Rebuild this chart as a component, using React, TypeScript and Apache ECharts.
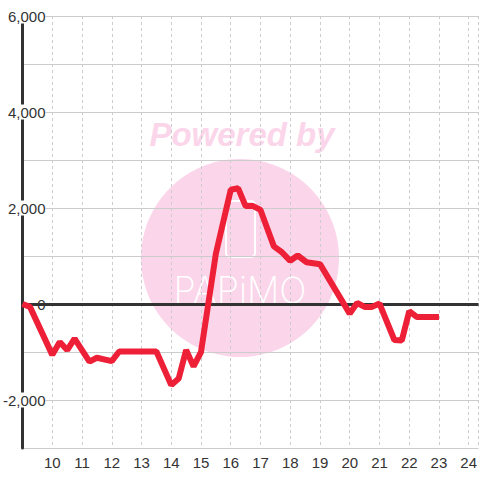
import React, { useEffect, useRef } from "react";
import * as echarts from "echarts";

const hours = [9.0, 9.25, 10.0, 10.25, 10.5, 10.75, 11.25, 11.5, 12.0, 12.25, 13.5, 14.0, 14.25, 14.5, 14.75, 15.0, 15.5, 16.0, 16.25, 16.5, 16.75, 17.0, 17.45, 17.7, 18.0, 18.25, 18.55, 19.0, 20.0, 20.25, 20.5, 20.75, 21.0, 21.5, 21.75, 22.0, 22.25, 23.0];
const values = [0, -60, -1060, -790, -960, -720, -1200, -1120, -1190, -990, -990, -1690, -1550, -960, -1300, -1000, 1050, 2380, 2410, 2040, 2040, 1960, 1200, 1090, 900, 1010, 870, 830, -200, 20, -60, -60, 10, -750, -760, -150, -270, -270];

const yTickLabelStep = 2000;

export default function App() {
  const ref = useRef<HTMLDivElement>(null);
  useEffect(() => {
    const chart = echarts.init(ref.current!, null, { renderer: "svg" });
    const font = "'Liberation Sans', Arial, sans-serif";
    chart.setOption({
      animation: false,
      backgroundColor: "#ffffff",
      grid: { left: 20, right: 0, top: 16, bottom: 32, containLabel: false },
      graphic: [
        {
          type: "circle",
          z: -10,
          shape: { cx: 240, cy: 258, r: 99 },
          style: { fill: "#fbd6ea" },
        },
        {
          type: "text",
          z: -10,
          x: 242,
          y: 134,
          style: {
            text: "Powered by",
            fill: "#fbd6ea",
            font: "italic 900 33px 'Liberation Sans', Arial, sans-serif",
            align: "center",
            verticalAlign: "middle",
          },
        },
        {
          type: "rect",
          z: -9,
          shape: { x: 226, y: 201, width: 29, height: 56, r: 4 },
          style: { fill: "none", stroke: "#ffffff", lineWidth: 2 },
        },
        {
          type: "text",
          z: -9,
          x: 240,
          y: 290,
          style: {
            text: "PAPiMO",
            fill: "#ffffff",
            font: "200 36px Inter, sans-serif",
            align: "center",
            verticalAlign: "middle",
          },
        },
      ],
      xAxis: {
        type: "value",
        min: 9,
        max: 24.33,
        interval: 1,
        axisLine: { show: true, lineStyle: { color: "#cccccc", width: 1 } },
        axisTick: { show: false },
        axisLabel: {
          showMinLabel: false,
          showMaxLabel: false,
          color: "#333333",
          fontSize: 15,
          fontFamily: font,
          margin: 7,
        },
        splitLine: { show: true, lineStyle: { color: "#cccccc", type: [3, 3], width: 1 } },
      },
      yAxis: {
        type: "value",
        min: -3000,
        max: 6000,
        interval: 1000,
        axisLine: { show: true, lineStyle: { color: "#333333", width: 3 } },
        axisTick: { show: false },
        axisLabel: {
          color: "#333333",
          fontSize: 15,
          fontFamily: font,
          margin: -23,
          backgroundColor: "#ffffff",
          formatter: (v: number) =>
            v % yTickLabelStep === 0 && v > -3000 ? v.toLocaleString("en-US") : "",
        },
        splitLine: { show: true, lineStyle: { color: "#cccccc", width: 1 } },
      },
      series: [
        {
          type: "line",
          data: hours.map((h, i) => [h, values[i]]),
          showSymbol: false,
          symbol: "none",
          lineStyle: { color: "#ee2038", width: 6 },
          z: 3,
          markLine: {
            z: 1,
            silent: true,
            symbol: "none",
            label: { show: false },
            lineStyle: { color: "#333333", width: 3, type: "solid" },
            data: [{ yAxis: 0 }],
          },
        },
      ],
    });
    return () => chart.dispose();
  }, []);
  return <div ref={ref} style={{ width: 480, height: 480, position: "absolute", left: 0, top: 0 }} />;
}
